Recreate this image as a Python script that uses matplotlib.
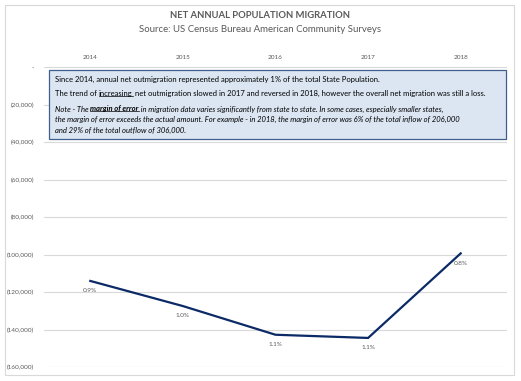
import matplotlib
matplotlib.use("Agg")
import matplotlib.pyplot as plt
from matplotlib.lines import Line2D
from matplotlib.patches import Rectangle
from matplotlib.ticker import FuncFormatter

years = ["2014", "2015", "2016", "2017", "2018"]
net_migration = [-114100, -127500, -142800, -144500, -99400]
pct_labels = ["0.9%", "1.0%", "1.1%", "1.1%", "0.8%"]
y_ticks = [0, -20000, -40000, -60000, -80000, -100000, -120000, -140000, -160000]

title = "NET ANNUAL POPULATION MIGRATION"
subtitle = "Source: US Census Bureau American Community Surveys"

note_lines = [
    [("Since 2014, annual net outmigration represented approximately 1% of the total State Population.", {})],
    [("The trend of ", {}), ("increasing", {"u": True}),
     (" net outmigration slowed in 2017 and reversed in 2018, however the overall net migration was still a loss.", {})],
    [("Note - The ", {"i": True}), ("margin of error", {"i": True, "b": True, "u": True}),
     (" in migration data varies significantly from state to state. In some cases, especially smaller states,", {"i": True})],
    [("the margin of error exceeds the actual amount. For example - in 2018, the margin of error was 6% of the total inflow of 206,000", {"i": True})],
    [("and 29% of the total outflow of 306,000.", {"i": True})],
]

W, H = 521, 381
FONT = "Lato"
GRAY = "#595959"
fig = plt.figure(figsize=(W / 100, H / 100), dpi=100)
fig.patch.set_facecolor("white")


def fx(px):
    return px / W


def fy(py):
    return 1 - py / H


# outer chart border
fig.add_artist(Rectangle((fx(5), fy(375)), fx(514) - fx(5), fy(5) - fy(375),
                         transform=fig.transFigure, fill=False, edgecolor="#D9D9D9", lw=0.8))

ax = fig.add_axes([fx(44), fy(367), fx(507) - fx(44), fy(67) - fy(367)])
x = list(range(len(years)))
ax.plot(x, net_migration, color="#0B2A66", lw=1.6, solid_joinstyle="miter")
for xi, yi, lab in zip(x, net_migration, pct_labels):
    ax.annotate(lab, (xi, yi), xytext=(0, -7), textcoords="offset points",
                ha="center", va="center", fontsize=4.6, color=GRAY, family=FONT)

ax.set_xlim(-0.5, len(years) - 0.5)
ax.set_ylim(-160000, 0)
ax.set_yticks(y_ticks)
ax.yaxis.set_major_formatter(FuncFormatter(lambda v, p: "-" if v == 0 else "({:,.0f})".format(abs(v))))
ax.set_xticks(x)
ax.set_xticklabels(years)
ax.xaxis.tick_top()
ax.tick_params(axis="both", length=0, labelsize=4.6, labelcolor=GRAY)
ax.tick_params(axis="x", pad=5)
ax.tick_params(axis="y", pad=7)
for lab in ax.get_xticklabels() + ax.get_yticklabels():
    lab.set_family(FONT)
ax.grid(axis="y", color="#D9D9D9", lw=0.8)
ax.set_axisbelow(True)
for s in ax.spines.values():
    s.set_visible(False)

fig.text(0.5, fy(16), title, ha="center", va="center", fontsize=6.8, fontweight="bold",
         color=GRAY, family=FONT)
fig.text(0.5, fy(30), subtitle, ha="center", va="center", fontsize=6.9, color=GRAY, family=FONT)

# note box
fig.add_artist(Rectangle((fx(49), fy(139)), fx(506) - fx(49), fy(70) - fy(139),
                         transform=fig.transFigure, facecolor="#DCE6F2",
                         edgecolor="#3F5F8F", lw=0.9, zorder=5))

line_y = [79, 93.5, 109, 119.5, 130]
NOTE_FS = 5.5
fig.canvas.draw()
renderer = fig.canvas.get_renderer()
underlined = []
for segs, ly in zip(note_lines, line_y):
    xpos = fx(55)
    for txt, st in segs:
        t = fig.text(xpos, fy(ly), txt, ha="left", va="center", fontsize=NOTE_FS,
                     color="black", family=FONT, zorder=6,
                     fontstyle="italic" if st.get("i") else "normal",
                     fontweight="bold" if st.get("b") else "normal")
        bb = t.get_window_extent(renderer)
        xpos = bb.x1 / W
        if st.get("u"):
            underlined.append(bb)

for bb in underlined:
    yline = bb.y0 + 1.3
    fig.add_artist(Line2D([bb.x0 / W, bb.x1 / W], [yline / H, yline / H],
                          transform=fig.transFigure, color="black", lw=0.5, zorder=7))

fig.savefig("out.png", dpi=100, facecolor="white")
